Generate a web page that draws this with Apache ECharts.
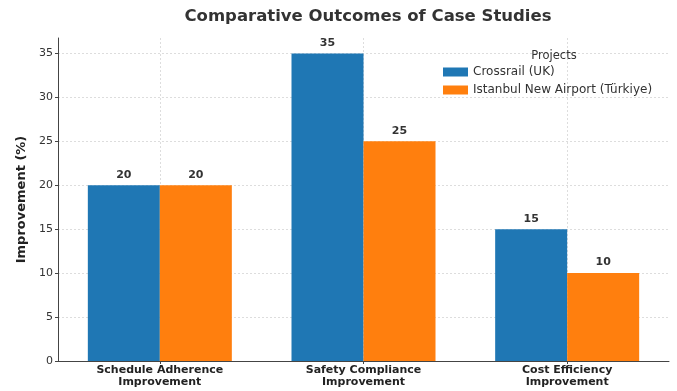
<!DOCTYPE html>
<html><head><meta charset="utf-8">
<script src="https://cdn.jsdelivr.net/npm/echarts@6/dist/echarts.min.js"></script>
<style>html,body{margin:0;padding:0;background:#fff}#c{width:677px;height:391px}</style>
</head><body><div id="c"></div>
<script>
var categories = ['Schedule Adherence\nImprovement', 'Safety Compliance\nImprovement', 'Cost Efficiency\nImprovement'];
var seriesNames = ['Crossrail (UK)', 'Istanbul New Airport (Türkiye)'];
var crossrail = [20, 35, 15];
var istanbul = [20, 25, 10];
var yTicks = [0, 5, 10, 15, 20, 25, 30, 35];
var gridSlots = ['0', '1', '2', '3', '4', '5', '6'];

var font = 'DejaVu Sans';
var chart = echarts.init(document.getElementById('c'));
var labelStyle = {show: true, position: 'top', distance: 5, fontFamily: font, fontWeight: 'bold', fontSize: 11, color: '#333'};
chart.setOption({
  animation: false,
  backgroundColor: '#fff',
  title: [
    {text: 'Comparative Outcomes of Case Studies', left: 363, top: 3, textAlign: 'center',
     textStyle: {fontFamily: font, fontWeight: 'bold', fontSize: 16.5, color: '#333'}},
    {text: 'Projects', left: 549, top: 45, textAlign: 'center',
     textStyle: {fontFamily: font, fontWeight: 'normal', fontSize: 11.5, color: '#333'}}
  ],
  legend: {
    orient: 'vertical', left: 438, top: 61, itemWidth: 25, itemHeight: 9, itemGap: 6,
    icon: 'rect', data: seriesNames,
    textStyle: {fontFamily: font, fontSize: 12, color: '#333'}
  },
  grid: {left: 58, right: 8, top: 38, bottom: 30, containLabel: false},
  xAxis: [{
    type: 'category', data: categories,
    axisLine: {lineStyle: {color: '#444', width: 1}},
    axisTick: {show: true, alignWithLabel: true, length: 3, lineStyle: {color: '#444'}},
    axisLabel: {fontFamily: font, fontWeight: 'bold', fontSize: 11, color: '#222', lineHeight: 12, margin: 3},
    splitLine: {show: false}
  }, {
    type: 'category', data: gridSlots, boundaryGap: false, position: 'bottom',
    axisLine: {show: false}, axisTick: {show: false}, axisLabel: {show: false},
    splitLine: {show: true, interval: function (i) { return i % 2 === 1; },
      lineStyle: {color: '#ddd', type: [2, 2], width: 1}}
  }],
  yAxis: {
    type: 'value', min: 0, max: 36.75, interval: 5,
    name: 'Improvement (%)', nameLocation: 'middle', nameGap: 28,
    nameTextStyle: {fontFamily: font, fontWeight: 'bold', fontSize: 13, color: '#222'},
    axisLine: {show: true, lineStyle: {color: '#444', width: 1}},
    axisTick: {show: true, length: 3, lineStyle: {color: '#444'}},
    axisLabel: {fontFamily: font, fontSize: 11, color: '#333', margin: 5, showMaxLabel: false,
      formatter: function (v) { return yTicks.indexOf(v) >= 0 ? String(v) : ''; }},
    splitLine: {show: true, showMaxLine: false, lineStyle: {color: '#ddd', type: [2, 2], width: 1}}
  },
  series: [
    {name: seriesNames[0], type: 'bar', data: crossrail, barWidth: 72, barGap: '0%', xAxisIndex: 0,
     itemStyle: {color: '#1f77b4'}, label: labelStyle},
    {name: seriesNames[1], type: 'bar', data: istanbul, barWidth: 72, barGap: '0%', xAxisIndex: 0,
     itemStyle: {color: '#ff7f0e'}, label: labelStyle}
  ]
});
</script></body></html>
